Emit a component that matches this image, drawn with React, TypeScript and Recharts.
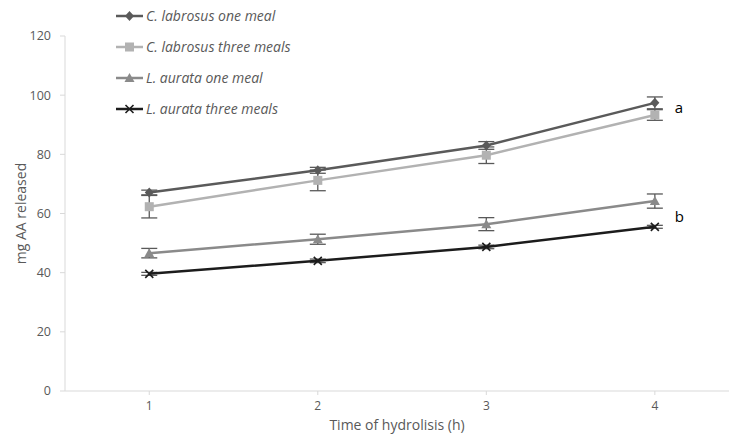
import React from "react";
import { LineChart, Line, XAxis, YAxis, ErrorBar, Legend, Label } from "recharts";

const hours = [1, 2, 3, 4];
const clOneMeal = [67.1, 74.6, 83.0, 97.4];
const clOneMealErr = [0.8, 1.0, 1.3, 2.0];
const clThreeMeals = [62.3, 71.2, 79.7, 93.3];
const clThreeMealsErr = [3.8, 3.5, 2.8, 1.8];
const laOneMeal = [46.6, 51.3, 56.4, 64.2];
const laOneMealErr = [1.6, 1.7, 2.2, 2.4];
const laThreeMeals = [39.6, 44.0, 48.7, 55.5];
const laThreeMealsErr = [0.5, 0.6, 0.6, 0.5];
const yTicks = [0, 20, 40, 60, 80, 100, 120];

const series = [
  { key: "clOne", name: "C. labrosus one meal", color: "#5a5a5a", shape: "diamond", letter: "a" },
  { key: "clThree", name: "C. labrosus three meals", color: "#b2b2b2", shape: "square", letter: "" },
  { key: "laOne", name: "L. aurata one meal", color: "#8a8a8a", shape: "triangle", letter: "" },
  { key: "laThree", name: "L. aurata three meals", color: "#1c1c1c", shape: "cross", letter: "b" },
];

const data = hours.map((h, i) => ({
  hour: h,
  clOne: clOneMeal[i],
  clOneErr: clOneMealErr[i],
  clThree: clThreeMeals[i],
  clThreeErr: clThreeMealsErr[i],
  laOne: laOneMeal[i],
  laOneErr: laOneMealErr[i],
  laThree: laThreeMeals[i],
  laThreeErr: laThreeMealsErr[i],
}));

const FONT = "'Open Sans', sans-serif";
const TEXT = "#595959";

const Marker = ({ shape, color, cx, cy }: any) => {
  if (cx == null || cy == null) return null;
  if (shape === "diamond")
    return <path d={`M${cx},${cy - 5} L${cx + 4.5},${cy} L${cx},${cy + 5} L${cx - 4.5},${cy} Z`} fill={color} />;
  if (shape === "square") return <rect x={cx - 4.5} y={cy - 4.5} width={9} height={9} fill={color} />;
  if (shape === "triangle")
    return <path d={`M${cx},${cy - 5} L${cx + 5},${cy + 4} L${cx - 5},${cy + 4} Z`} fill={color} />;
  return (
    <path
      d={`M${cx - 4},${cy - 4} L${cx + 4},${cy + 4} M${cx + 4},${cy - 4} L${cx - 4},${cy + 4}`}
      stroke={color}
      strokeWidth={1.6}
    />
  );
};

const LegendBox = () => (
  <div style={{ fontFamily: FONT, fontStyle: "italic", fontSize: 14, color: TEXT }}>
    {series.map((s) => (
      <div key={s.key} style={{ display: "flex", alignItems: "center", height: 31 }}>
        <svg width={28} height={12}>
          <line x1={0} y1={6} x2={27} y2={6} stroke={s.color} strokeWidth={2.5} />
          <Marker shape={s.shape} color={s.color} cx={13.5} cy={6} />
        </svg>
        <span style={{ marginLeft: 2 }}>{s.name}</span>
      </div>
    ))}
  </div>
);

export default function App() {
  return (
    <div style={{ position: "absolute", left: 0, top: 0 }}>
      <LineChart width={729} height={434} data={data} margin={{ top: 36, right: 0, bottom: 0, left: 0 }}>
        <XAxis
          dataKey="hour"
          type="number"
          domain={[0.5, 4.44]}
          ticks={hours}
          allowDataOverflow
          height={43}
          tickSize={4}
          tickMargin={6}
          axisLine={{ stroke: "#d9d9d9" }}
          tickLine={{ stroke: "#d9d9d9" }}
          tick={{ fill: TEXT, fontSize: 12, fontFamily: FONT }}
        >
          <Label
            value="Time of hydrolisis (h)"
            position="insideBottom"
            offset={4}
            style={{ fill: TEXT, fontSize: 14, fontFamily: FONT }}
          />
        </XAxis>
        <YAxis
          width={65}
          domain={[0, 120]}
          ticks={yTicks}
          tickSize={5}
          tickMargin={9}
          axisLine={{ stroke: "#d9d9d9" }}
          tickLine={{ stroke: "#d9d9d9" }}
          tick={{ fill: TEXT, fontSize: 12.5, fontFamily: FONT }}
        >
          <Label
            value="mg AA released"
            angle={-90}
            position="insideLeft"
            offset={21}
            style={{ fill: TEXT, fontSize: 14, fontFamily: FONT, textAnchor: "middle" }}
          />
        </YAxis>
        <Legend
          layout="vertical"
          align="center"
          verticalAlign="middle"
          wrapperStyle={{ top: 0, left: 116, width: 260 }}
          content={() => <LegendBox />}
        />
        {series.map((s) => (
          <Line
            key={s.key}
            dataKey={s.key}
            name={s.name}
            stroke={s.color}
            strokeWidth={2.5}
            isAnimationActive={false}
            dot={(p: any) => <Marker key={`${s.key}-${p.index}`} shape={s.shape} color={s.color} cx={p.cx} cy={p.cy} />}
            activeDot={false}
            label={
              s.letter
                ? (p: any) =>
                    p.index === hours.length - 1 ? (
                      <text
                        key={`lbl-${s.key}`}
                        x={p.x + 20}
                        y={s.letter === "a" ? p.y + 10 : p.y - 5}
                        fontSize={15}
                        fontFamily={FONT}
                        fill="#000"
                      >
                        {s.letter}
                      </text>
                    ) : null
                : false
            }
          >
            <ErrorBar dataKey={`${s.key}Err`} width={8} strokeWidth={1.3} stroke="#595959" direction="y" />
          </Line>
        ))}
      </LineChart>
    </div>
  );
}
